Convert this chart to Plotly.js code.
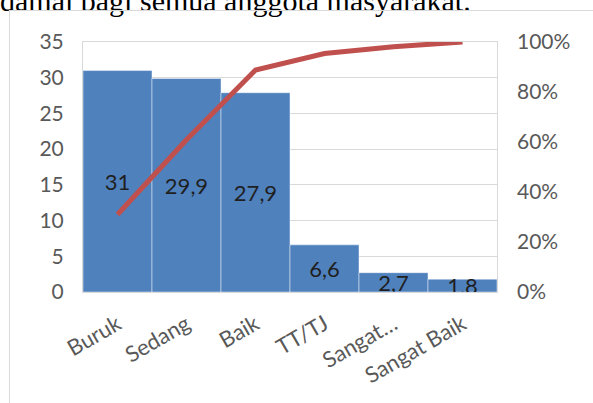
<!DOCTYPE html>
<html>
<head>
<meta charset="utf-8">
<script src="https://cdn.plot.ly/plotly-3.0.1.min.js"></script>
<style>
  html, body { margin: 0; padding: 0; background: #fff; overflow: hidden; }
  #wrap { position: relative; width: 593px; height: 403px; overflow: hidden; }
  #caption { position: absolute; left: 0; top: -14px; font-family: "Liberation Serif", "Times New Roman", serif; font-size: 30px; line-height: 30px; color: #000; white-space: nowrap; }
  #frame { position: absolute; left: 9px; top: 10px; width: 700px; height: 500px; border: 1px solid #D9D9D9; box-sizing: border-box; }
  #chart { position: absolute; left: 0; top: 0; width: 593px; height: 403px; }
</style>
</head>
<body>
<div id="wrap">
  <div id="caption">damai bagi semua anggota masyarakat.</div>
  <div id="frame"></div>
  <div id="chart"></div>
</div>
<script>
const categories = ["Buruk", "Sedang", "Baik", "TT/TJ", "Sangat…", "Sangat Baik"];
const values = [31, 29.9, 27.9, 6.6, 2.7, 1.8];
const cumulativeShare = [0.31, 0.609, 0.888, 0.954, 0.981, 1.0];
const yTicks = [0, 5, 10, 15, 20, 25, 30, 35];
const y2Ticks = [0, 0.2, 0.4, 0.6, 0.8, 1.0];

const valueLabels = values.map(v => String(v).replace('.', ','));

const font = "Lato, 'Open Sans', sans-serif";

const bars = {
  type: 'bar',
  x: categories,
  y: values,
  text: valueLabels,
  textposition: 'inside',
  insidetextanchor: 'middle',
  constraintext: 'none',
  textfont: { family: font, size: 22, color: '#1f1f1f' },
  marker: { color: '#4F81BD', line: { color: 'rgba(255,255,255,0.45)', width: 1 } },
  hoverinfo: 'none'
};

const line = {
  type: 'scatter',
  mode: 'lines',
  x: categories,
  y: cumulativeShare,
  yaxis: 'y2',
  line: { color: '#C0504D', width: 5 },
  hoverinfo: 'none'
};

const layout = {
  width: 593,
  height: 403,
  margin: { l: 83, r: 96, t: 42, b: 111 },
  paper_bgcolor: 'rgba(0,0,0,0)',
  plot_bgcolor: 'rgba(0,0,0,0)',
  showlegend: false,
  bargap: 0,
  font: { family: font, size: 20, color: '#595959' },
  xaxis: {
    type: 'category',
    tickangle: -30,
    tickfont: { family: font, size: 22, color: '#595959' },
    showgrid: false,
    showline: true,
    linecolor: '#D9D9D9',
    linewidth: 1,
    mirror: true,
    ticks: '',
    ticklabelstandoff: 10,
    automargin: false
  },
  yaxis: {
    range: [0, 35],
    tickvals: yTicks,
    ticktext: yTicks.map(String),
    showgrid: true,
    gridcolor: '#D9D9D9',
    gridwidth: 1,
    zeroline: false,
    showline: true,
    linecolor: '#D9D9D9',
    mirror: true,
    ticks: '',
    ticklabelstandoff: 14,
    tickfont: { family: font, size: 21, color: '#595959' },
    automargin: false
  },
  yaxis2: {
    overlaying: 'y',
    side: 'right',
    range: [0, 1],
    tickvals: y2Ticks,
    tickformat: '.0%',
    showgrid: false,
    zeroline: false,
    ticks: '',
    ticklabelstandoff: 19,
    tickfont: { family: font, size: 21, color: '#595959' },
    automargin: false
  }
};

Plotly.newPlot('chart', [bars, line], layout, { displayModeBar: false, staticPlot: true });
</script>
</body>
</html>
